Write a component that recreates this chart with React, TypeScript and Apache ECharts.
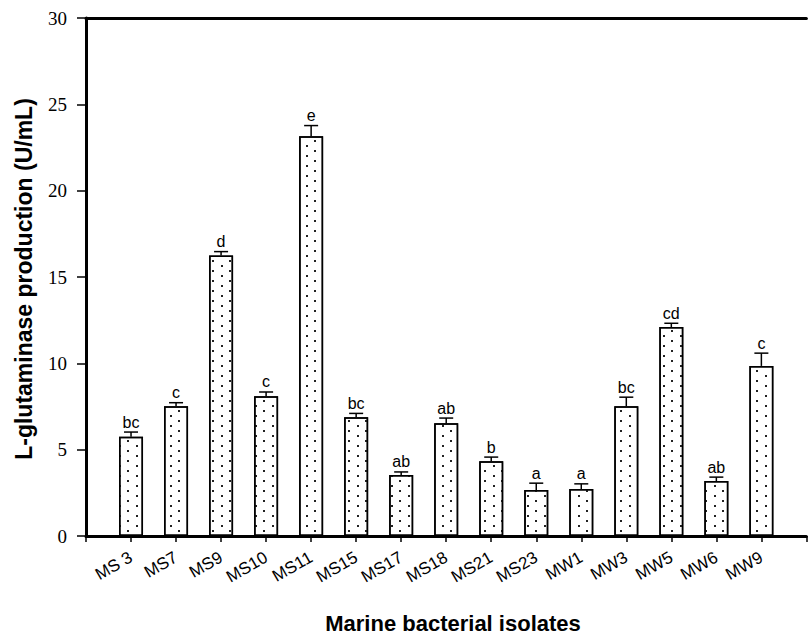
import React, { useEffect, useRef } from "react";
import * as echarts from "echarts";

const categories = ["MS 3", "MS7", "MS9", "MS10", "MS11", "MS15", "MS17", "MS18", "MS21", "MS23", "MW1", "MW3", "MW5", "MW6", "MW9"];
const values = [5.75, 7.52, 16.25, 8.1, 23.15, 6.88, 3.53, 6.53, 4.33, 2.66, 2.72, 7.52, 12.1, 3.18, 9.85];
const errors = [0.27, 0.2, 0.22, 0.24, 0.62, 0.22, 0.18, 0.3, 0.24, 0.4, 0.3, 0.52, 0.22, 0.23, 0.74];
const letters = ["bc", "c", "d", "c", "e", "bc", "ab", "ab", "b", "a", "a", "bc", "cd", "ab", "c"];
const yTicks = [0, 5, 10, 15, 20, 25, 30];
const yTitle = "L-glutaminase production (U/mL)";
const xTitle = "Marine bacterial isolates";

export default function App() {
  const ref = useRef<HTMLDivElement>(null);
  useEffect(() => {
    document.body.style.margin = "0";
    const chart = echarts.init(ref.current!, null, { renderer: "svg" });
    const barData = values.map((v, i) => [i + 1, v]);
    const errData = values.map((v, i) => [i + 1, v, errors[i]]);
    chart.setOption({
      animation: false,
      backgroundColor: "#fff",
      grid: { left: 86, top: 18, right: -12, bottom: 101, containLabel: false },
      xAxis: [
        {
          type: "value",
          min: 0,
          max: 16,
          interval: 1,
          position: "bottom",
          splitLine: { show: false },
          axisLine: { show: true, lineStyle: { color: "#000", width: 3 } },
          axisTick: { show: true, inside: false, length: 6, lineStyle: { color: "#000", width: 1.5 } },
          axisLabel: {
            rotate: 30,
            margin: 20,
            color: "#000",
            fontFamily: "'Liberation Sans', Arial, sans-serif",
            fontSize: 17,
            formatter: (v: number) => (v >= 1 && v <= categories.length ? categories[v - 1] : ""),
          },
        },
        {
          type: "value",
          min: 0,
          max: 16,
          position: "top",
          splitLine: { show: false },
          axisLine: { show: true, onZero: false, lineStyle: { color: "#000", width: 3 } },
          axisTick: { show: false },
          axisLabel: { show: false },
        },
      ],
      yAxis: {
        type: "value",
        min: yTicks[0],
        max: yTicks[yTicks.length - 1],
        interval: 5,
        splitLine: { show: false },
        axisLine: { show: true, onZero: false, lineStyle: { color: "#000", width: 3 } },
        axisTick: { show: true, inside: false, length: 9, lineStyle: { color: "#000", width: 1.5 } },
        axisLabel: {
          margin: 19,
          color: "#000",
          fontFamily: "'Liberation Serif', 'Times New Roman', serif",
          fontSize: 19,
        },
      },
      graphic: [
        {
          type: "text",
          x: 24,
          y: 279,
          rotation: Math.PI / 2,
          style: {
            text: yTitle,
            fontFamily: "'Liberation Sans', Arial, sans-serif",
            fontWeight: "bold",
            fontSize: 23,
            fill: "#000",
            textAlign: "center",
            textVerticalAlign: "middle",
          },
        },
        {
          type: "text",
          x: 453,
          y: 623,
          style: {
            text: xTitle,
            fontFamily: "'Liberation Sans', Arial, sans-serif",
            fontWeight: "bold",
            fontSize: 22,
            fill: "#000",
            textAlign: "center",
            textVerticalAlign: "middle",
          },
        },
      ],
      series: [
        {
          type: "bar",
          xAxisIndex: 0,
          data: barData,
          barWidth: 24,
          itemStyle: {
            color: "#fff",
            borderColor: "#000",
            borderWidth: 1.5,
            decal: {
              symbol: "rect",
              symbolSize: 1,
              color: "#222",
              backgroundColor: "#fff",
              dashArrayX: [[1.6, 14.4], [0, 8, 1.6, 6.4]],
              dashArrayY: [1.6, 2.2],
              rotation: 0,
            },
          },
          z: 2,
        },
        {
          type: "custom",
          xAxisIndex: 0,
          data: errData,
          z: 3,
          renderItem: (params: any, api: any) => {
            const x = api.value(0);
            const y = api.value(1);
            const e = api.value(2);
            const p0 = api.coord([x, y]);
            const p1 = api.coord([x, y + e]);
            const lbl = letters[params.dataIndex];
            return {
              type: "group",
              children: [
                { type: "line", shape: { x1: p0[0], y1: p0[1], x2: p1[0], y2: p1[1] }, style: { stroke: "#000", lineWidth: 1.5 } },
                { type: "line", shape: { x1: p1[0] - 7, y1: p1[1], x2: p1[0] + 7, y2: p1[1] }, style: { stroke: "#000", lineWidth: 1.5 } },
                {
                  type: "text",
                  x: p1[0],
                  y: p1[1] - 2,
                  style: {
                    text: lbl,
                    fontFamily: "'Liberation Sans', Arial, sans-serif",
                    fontSize: 16,
                    fill: "#000",
                    textAlign: "center",
                    textVerticalAlign: "bottom",
                  },
                },
              ],
            };
          },
        },
      ],
    });
    return () => chart.dispose();
  }, []);
  return <div ref={ref} style={{ width: 809, height: 637 }} />;
}
